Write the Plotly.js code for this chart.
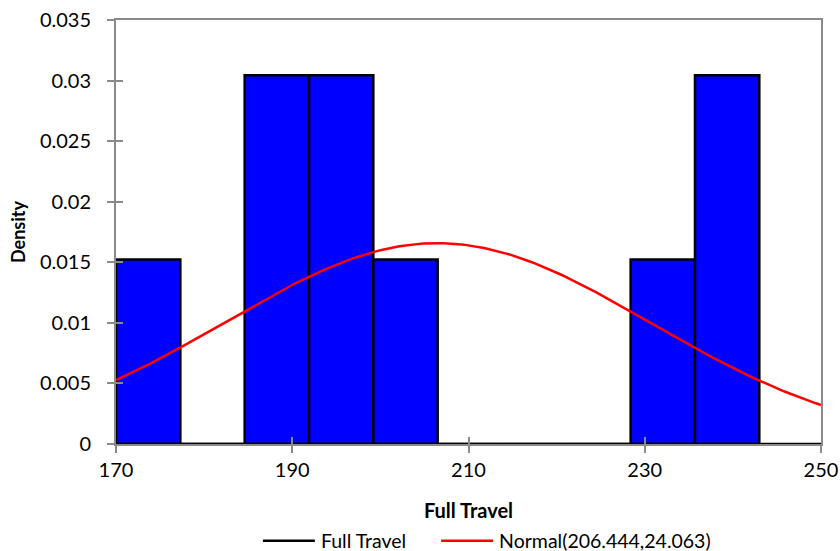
<!DOCTYPE html>
<html>
<head>
<meta charset="utf-8">
<script src="https://cdn.plot.ly/plotly-3.0.1.min.js"></script>
<style>
  html, body { margin: 0; padding: 0; background: #fff; }
  #chart { width: 840px; height: 551px; }
</style>
</head>
<body>
<div id="chart"></div>
<script>
// Histogram of Full Travel (n = 9) with a fitted normal curve
const binEdges = [170, 177.3, 184.6, 191.9, 199.2, 206.5, 213.8, 221.1, 228.4, 235.7, 243.0];
const binCounts = [1, 0, 2, 2, 1, 0, 0, 0, 1, 2];
const sampleSize = 9;
const normalMean = 206.444;
const normalSd = 24.063;
const xTicks = [170, 190, 210, 230, 250];
const yTicks = [0, 0.005, 0.01, 0.015, 0.02, 0.025, 0.03, 0.035];
const yTickText = ['0', '0.005', '0.01', '0.015', '0.02', '0.025', '0.03', '0.035'];

const xRange = [170, 250];
const yRange = [0, 0.035];

// bar geometry from the bin edges
const centers = [], widths = [], density = [];
for (let i = 0; i < binCounts.length; i++) {
  const w = binEdges[i + 1] - binEdges[i];
  centers.push((binEdges[i] + binEdges[i + 1]) / 2);
  widths.push(w);
  density.push(binCounts[i] / (sampleSize * w));
}

// normal pdf over the visible range
const curveX = [], curveY = [];
for (let k = 0; k <= 200; k++) {
  const x = xRange[0] + (xRange[1] - xRange[0]) * k / 200;
  const z = (x - normalMean) / normalSd;
  curveX.push(x);
  curveY.push(Math.exp(-0.5 * z * z) / (normalSd * Math.sqrt(2 * Math.PI)));
}

const FONT = 'Lato, "Liberation Sans", sans-serif';
const GREY = '#8a8a8a';
const PAD = '\u00a0\u00a0\u00a0\u00a0\u00a0'; // extra room between legend entries
const LEGEND_LINE = 52; // length of legend line samples, px

const traces = [
  {
    type: 'bar', x: centers, y: density, width: widths,
    marker: { color: '#0000ff', line: { color: '#000000', width: 2.5 } },
    showlegend: false, hoverinfo: 'x+y'
  },
  {
    type: 'scatter', mode: 'lines', name: 'Full Travel' + PAD,
    x: xRange, y: [0, 0],
    line: { color: '#000000', width: 2.5 }, cliponaxis: false
  },
  {
    type: 'scatter', mode: 'lines',
    name: 'Normal(' + normalMean + ',' + normalSd + ')',
    x: curveX, y: curveY,
    line: { color: '#ff0000', width: 2.5 }
  }
];

const layout = {
  width: 840, height: 551,
  margin: { l: 116, r: 19, t: 20, b: 107 },
  paper_bgcolor: '#ffffff', plot_bgcolor: '#ffffff',
  font: { family: FONT, size: 20, color: '#000000' },
  bargap: 0,
  showlegend: true,
  legend: {
    orientation: 'h', x: 0.307, xanchor: 'left', xref: 'container',
    y: 0.018, yanchor: 'middle', yref: 'container',
    font: { family: FONT, size: 19.5 }, itemwidth: LEGEND_LINE + 1
  },
  xaxis: {
    range: xRange, tickvals: xTicks, ticktext: xTicks.map(String),
    showgrid: false, zeroline: false,
    showline: true, linecolor: GREY, linewidth: 2, mirror: true,
    ticks: 'outside', ticklen: 7, tickcolor: GREY, tickwidth: 2,
    tickfont: { family: FONT, size: 20 },
    title: { text: '<b>Full Travel</b>', font: { family: FONT, size: 20 }, standoff: 26 }
  },
  yaxis: {
    range: yRange, tickvals: yTicks, ticktext: yTickText,
    showgrid: false, zeroline: false,
    showline: true, linecolor: GREY, linewidth: 2, mirror: true,
    ticks: 'outside', ticklen: 7, tickcolor: GREY, tickwidth: 2,
    ticklabelstandoff: 12,
    tickfont: { family: FONT, size: 20 },
    title: { text: '<b>Density</b>', font: { family: FONT, size: 18 }, standoff: 10 }
  },
  // inner halves of the crossing tick marks
  xaxis2: {
    overlaying: 'x', range: xRange, tickvals: xTicks, showticklabels: false,
    ticks: 'inside', ticklen: 7, tickcolor: GREY, tickwidth: 2,
    showgrid: false, zeroline: false, showline: false
  },
  yaxis2: {
    overlaying: 'y', range: yRange, tickvals: yTicks, showticklabels: false,
    ticks: 'inside', ticklen: 7, tickcolor: GREY, tickwidth: 2,
    showgrid: false, zeroline: false, showline: false
  }
};

// an empty trace to show the overlay axes
traces.push({ type: 'scatter', x: [], y: [], xaxis: 'x2', yaxis: 'y2', showlegend: false, hoverinfo: 'skip' });

Plotly.newPlot('chart', traces, layout, { displayModeBar: false, staticPlot: true }).then(function (gd) {
  // stretch the legend line samples to fill the wider symbol slot
  gd.querySelectorAll('.legend .legendlines path').forEach(function (p) {
    p.setAttribute('d', 'M5,0h' + LEGEND_LINE);
  });
});
</script>
</body>
</html>
